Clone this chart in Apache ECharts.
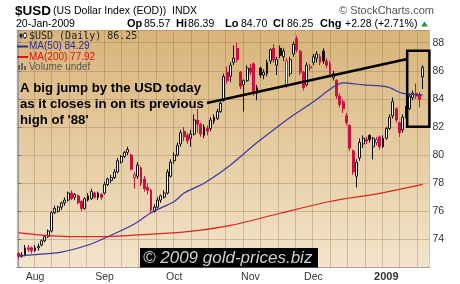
<!DOCTYPE html>
<html><head><meta charset="utf-8">
<script src="https://cdn.jsdelivr.net/npm/echarts@6/dist/echarts.min.js"></script>
<style>html,body{margin:0;padding:0;background:#fff}#c{width:460px;height:284px}</style>
</head><body><div id="c"></div>
<script>
// ---- data ----
const dates = [
'07/25','07/28','07/29','07/30','07/31',
'08/01','08/04','08/05','08/06','08/07','08/08','08/11','08/12','08/13','08/14','08/15','08/18','08/19','08/20','08/21','08/22','08/25','08/26','08/27','08/28','08/29',
'09/02','09/03','09/04','09/05','09/08','09/09','09/10','09/11','09/12','09/15','09/16','09/17','09/18','09/19','09/22','09/23','09/24','09/25','09/26','09/29','09/30',
'10/01','10/02','10/03','10/06','10/07','10/08','10/09','10/10','10/13','10/14','10/15','10/16','10/17','10/20','10/21','10/22','10/23','10/24','10/27','10/28','10/29','10/30','10/31',
'11/03','11/04','11/05','11/06','11/07','11/10','11/11','11/12','11/13','11/14','11/17','11/18','11/19','11/20','11/21','11/24','11/25','11/26','11/28',
'12/01','12/02','12/03','12/04','12/05','12/08','12/09','12/10','12/11','12/12','12/15','12/16','12/17','12/18','12/19','12/22','12/23','12/24','12/26','12/29','12/30','12/31',
'01/02','01/05','01/06','01/07','01/08','01/09','01/12','01/13','01/14','01/15','01/16','01/20'];
const opens = [73.0,72.8,72.9,73.4,73.4,73.2,73.4,73.6,73.9,74.2,74.6,75.9,76.0,76.3,76.6,76.8,77.3,77.0,77.1,76.7,76.2,76.8,76.9,77.3,77.0,77.2,
77.3,77.9,78.2,78.4,78.8,79.5,79.9,80.2,80.0,78.4,78.5,79.1,78.3,77.7,77.5,76.0,76.3,76.8,77.0,77.3,78.5,
79.6,80.0,80.8,81.7,81.4,81.2,81.5,82.5,82.2,81.4,81.9,81.9,82.4,82.6,83.1,83.9,85.9,85.6,86.6,87.6,85.9,85.0,85.3,
86.2,86.5,84.4,86.2,85.7,85.8,86.7,87.6,86.4,87.6,87.0,85.0,85.8,87.2,88.3,87.4,85.9,85.0,86.2,
86.6,86.9,87.0,87.4,86.7,86.5,85.5,85.3,84.2,83.8,82.8,82.1,80.3,78.5,79.8,80.8,81.1,81.4,80.6,80.9,81.3,80.6,
81.2,81.9,82.8,83.3,82.3,81.8,82.7,83.3,84.1,84.4,84.3,85.57];
const closes = [72.8,72.9,73.4,73.3,73.2,73.4,73.5,73.9,74.2,74.6,75.9,76.2,76.3,76.6,76.8,77.3,76.9,77.2,76.6,76.2,76.9,77.1,77.4,77.0,77.3,77.0,
77.9,78.3,78.4,78.8,79.6,79.9,80.2,80.4,79.0,78.6,79.3,78.0,77.6,77.5,76.1,76.3,76.8,77.1,77.3,78.8,79.5,
80.0,80.7,81.6,81.3,81.0,81.5,82.5,82.2,81.5,82.0,81.7,82.5,82.7,83.1,83.7,85.6,85.3,86.4,86.9,86.8,84.9,85.3,86.2,
85.9,84.4,84.8,85.7,85.9,86.6,87.5,86.8,86.8,87.1,87.4,86.7,86.8,87.9,87.5,85.9,84.8,86.4,86.3,
87.0,87.2,86.6,86.7,86.4,85.8,85.8,84.2,83.6,83.3,82.3,80.5,78.8,79.5,80.9,81.2,81.0,81.1,81.2,81.1,80.6,81.2,
81.9,82.7,83.8,82.5,81.6,82.7,83.3,84.2,84.4,84.2,83.97,86.25];
const lows = [72.6,72.7,72.8,73.1,73.0,73.1,73.2,73.5,73.8,74.1,74.5,75.8,75.9,76.1,76.4,76.7,76.8,76.8,76.5,76.0,76.1,76.7,76.8,76.9,76.8,76.8,
77.2,77.8,78.0,78.3,78.7,79.4,79.8,80.0,78.9,77.6,78.3,77.8,77.4,77.2,75.9,75.9,76.2,76.6,76.9,77.2,78.4,
79.4,79.9,80.6,81.0,80.8,80.6,81.4,81.6,81.3,81.2,81.4,81.7,82.2,82.5,83.0,83.8,85.1,85.2,86.4,86.6,84.7,83.1,85.2,
85.7,84.2,83.9,85.5,85.4,85.6,86.5,86.6,85.7,86.9,86.7,84.8,85.6,87.0,87.3,85.7,84.6,84.9,86.0,
86.4,86.6,86.4,86.5,86.2,85.6,85.3,84.0,83.4,83.0,82.1,80.3,78.6,77.7,79.6,80.5,80.8,80.9,79.7,80.7,80.4,80.5,
81.1,81.8,82.6,82.3,81.3,81.6,82.6,83.2,83.9,84.0,83.4,84.70];
const highs = [73.1,73.1,73.6,73.6,73.5,73.6,73.7,74.0,74.3,74.7,76.0,76.4,76.4,76.7,77.0,77.4,77.5,77.3,77.2,76.8,77.0,77.3,77.6,77.4,77.4,77.3,
78.1,78.4,78.6,79.0,79.8,80.0,80.3,80.6,80.1,78.8,79.5,79.2,78.5,78.0,77.6,76.5,77.0,77.2,77.5,79.0,79.7,
80.2,80.9,81.8,82.0,81.6,81.8,82.9,83.3,82.3,82.2,82.1,82.7,82.9,83.3,83.9,85.8,86.3,86.6,87.8,88.0,86.0,85.4,86.4,
86.5,86.6,85.0,86.3,86.1,86.8,87.6,87.9,87.0,87.8,87.6,86.9,87.0,88.1,88.5,87.5,86.0,86.6,86.5,
87.2,87.4,87.2,87.6,86.9,86.7,86.0,85.4,84.4,84.0,83.0,82.2,80.4,79.7,81.2,81.4,81.3,81.5,81.3,81.3,81.4,81.4,
82.0,82.9,84.1,83.4,82.4,82.9,83.5,84.4,84.6,85.1,84.5,86.39];
const ma50Idx = [0,4,13,21,27,35,40,47,50,56,64,71,77,83,89,95,98,104,111,116,122];
const ma50Val = [72.8,72.9,73.1,73.6,74.2,75.1,75.9,76.7,77.3,78.0,79.3,80.7,81.8,82.85,83.8,84.85,85.15,85.0,84.87,84.4,84.29];
const ma200Idx = [0,7,15,26,40,51,64,79,94,109,122];
const ma200Val = [74.48,74.3,74.2,74.2,74.38,74.55,75.0,75.86,76.7,77.28,77.92];
const monthNames = {'08':'Aug','09':'Sep','10':'Oct','11':'Nov','12':'Dec','01':'2009'};
const yTicks = [74,76,78,80,82,84,86,88];
// annotation anchors (data space): trend line and highlight box
const trendFrom = [56.9, 83.71], trendTo = [117.3, 86.84];
const boxFrom = [117.3, 87.43], boxTo = [124.0, 82.02];

// ---- build ----
const monthIdx = [], monthLab = {};
dates.forEach((d,i)=>{ const m=d.slice(0,2); if(i>0 && m!==dates[i-1].slice(0,2)){ monthIdx.push(i); monthLab[i]=monthNames[m]; }});
const RED='#cc1040', BLK='#111';
const candleData = closes.map((c,i)=>{
  const prev = i>0 ? closes[i-1] : opens[i];
  const stroke = c < prev ? RED : BLK;
  const fill = c > opens[i] ? '#ffffff' : stroke;
  return {value:[i, opens[i], c, lows[i], highs[i]],
    itemStyle:{color:fill,color0:fill,borderColor:stroke,borderColor0:stroke,borderColorDoji:stroke}};
});
const F='"Liberation Sans", Arial, sans-serif';
function T(x,y,text,font,fill){return {type:'text',silent:true,z:50,style:{x:x,y:y,text:text,font:font,fill:fill,verticalAlign:'middle',textVerticalAlign:'middle'}};}
const chart = echarts.init(document.getElementById('c'), null, {width:460,height:284});
chart.setOption({
  animation:false,
  backgroundColor:'#fff',
  grid:{left:16.75,right:30.6,top:30.1,bottom:16.5,show:true,borderWidth:0,
    backgroundColor:{type:'linear',x:0,y:0,x2:0,y2:1,colorStops:[{offset:0,color:'#d8b47a'},{offset:1,color:'#f3e4cb'}]}},
  xAxis:[
    {type:'value',min:-0.5,max:124,position:'bottom',
     axisLine:{show:true,onZero:false,lineStyle:{color:'#999',type:'dotted'}},
     axisTick:{show:false},splitLine:{show:false},
     axisLabel:{customValues:monthIdx,margin:4,color:'#333',fontFamily:'Liberation Sans',fontSize:10.5,
       formatter:v=>{const s=monthLab[v]||''; return s==='2009'?'{b|'+s+'}':s;},
       rich:{b:{fontWeight:'bold',fontSize:11,color:'#333',fontFamily:'Liberation Sans'}}}},
    {type:'value',min:0,max:412.65,interval:17.4,position:'top',
     axisLine:{show:false},axisTick:{show:false},axisLabel:{show:false},
     splitLine:{show:true,lineStyle:{color:'rgba(140,105,60,0.32)',width:1}}}
  ],
  yAxis:{type:'value',position:'right',min:72,max:88.9,interval:2,
    axisLine:{show:true,lineStyle:{color:'#999'}},
    axisTick:{show:true,length:3,lineStyle:{color:'#777'}},
    axisLabel:{margin:3,color:'#333',fontFamily:'Liberation Sans',fontSize:10.5,
      formatter:v=>yTicks.indexOf(v)>=0?String(v):''},
    splitLine:{show:true,lineStyle:{color:'rgba(140,105,60,0.32)',width:1}}},
  series:[
    {type:'candlestick',xAxisIndex:0,barWidth:2.4,data:candleData,itemStyle:{borderWidth:1},z:3,
     markLine:{silent:true,symbol:['none','none'],label:{show:false},z:6,
       lineStyle:{color:'#000',width:2.5,type:'solid'},
       data:[[{coord:trendFrom},{coord:trendTo}]]},
     markArea:{silent:true,z:6,itemStyle:{color:'rgba(0,0,0,0)',borderColor:'#000',borderWidth:2.5},
       data:[[{coord:boxFrom},{coord:boxTo}]]}},
    {type:'line',xAxisIndex:0,data:ma50Idx.map((x,k)=>[x,ma50Val[k]]),symbol:'none',smooth:0.3,
     lineStyle:{color:'#3b36a8',width:1.2},z:4},
    {type:'line',xAxisIndex:0,data:ma200Idx.map((x,k)=>[x,ma200Val[k]]),symbol:'none',smooth:0.3,
     lineStyle:{color:'#dd2222',width:1.2},z:4}
  ],
  graphic:[
    T(15,11,'$USD','bold 13.5px '+F,'#000'),
    T(53,11,'(US Dollar Index (EOD))','10.5px '+F,'#000'),
    T(172,11,'INDX','10.5px '+F,'#000'),
    T(339,11,'\u00a9 StockCharts.com','11px '+F,'#555'),
    T(16,24,'20-Jan-2009','10.5px '+F,'#000'),
    T(127,24,'Op','bold 11px '+F,'#000'), T(144,24,'85.57','10.5px '+F,'#000'),
    T(176,24,'Hi','bold 11px '+F,'#000'), T(188,24,'86.39','10.5px '+F,'#000'),
    T(225,24,'Lo','bold 11px '+F,'#000'), T(241,24,'84.70','10.5px '+F,'#000'),
    T(273,24,'Cl','bold 11px '+F,'#000'), T(287,24,'86.25','10.5px '+F,'#000'),
    T(320,24,'Chg','bold 11px '+F,'#000'), T(345,24,'+2.28 (+2.71%)','10.5px '+F,'#000'),
    {type:'polygon',silent:true,z:50,shape:{points:[[421,26.5],[428,26.5],[424.5,21.5]]},style:{fill:'#1a9a3a'}},
    // in-plot legend
    {type:'line',silent:true,z:50,shape:{x1:21,y1:33,x2:21,y2:39},style:{stroke:'#222',lineWidth:1}},
    {type:'rect',silent:true,z:50,shape:{x:19.5,y:34,width:3,height:3},style:{fill:'#222'}},
    {type:'line',silent:true,z:50,shape:{x1:25,y1:32,x2:25,y2:39},style:{stroke:'#222',lineWidth:1}},
    {type:'rect',silent:true,z:50,shape:{x:23.5,y:33.5,width:3,height:4},style:{fill:'#fff',stroke:'#222',lineWidth:0.8}},
    T(29,36,'$USD (Daily) 86.25','10px "DejaVu Sans Mono", monospace','#222'),
    {type:'line',silent:true,z:50,shape:{x1:17,y1:46.5,x2:28,y2:46.5},style:{stroke:'#2b2b9a',lineWidth:2}},
    T(29,46.5,'MA(50) 84.29','10px '+F,'#2b2b9a'),
    {type:'line',silent:true,z:50,shape:{x1:17,y1:57,x2:28,y2:57},style:{stroke:'#dd1111',lineWidth:2}},
    T(29,57,'MA(200) 77.92','10px '+F,'#dd1111'),
    {type:'rect',silent:true,z:50,shape:{x:18,y:65,width:2,height:5},style:{fill:'#666'}},
    {type:'rect',silent:true,z:50,shape:{x:21,y:63,width:2,height:7},style:{fill:'#666'}},
    {type:'rect',silent:true,z:50,shape:{x:24,y:66,width:2,height:4},style:{fill:'#666'}},
    T(29,67.5,'Volume undef','10px '+F,'#555'),
    // annotation text
    T(20,88,'A big jump by the USD today','bold 13.2px '+F,'#000'),
    T(20,104,'as it closes in on its previous','bold 13.2px '+F,'#000'),
    T(20,120,"high of '88'",'bold 13.2px '+F,'#000'),
    // watermark
    {type:'rect',silent:true,z:50,shape:{x:140,y:248,width:178,height:19.5},style:{fill:'#000'}},
    T(143,258,'\u00a9 2009 gold-prices.biz','italic 17px '+F,'#cfcfcf')
  ]
});
</script></body></html>
